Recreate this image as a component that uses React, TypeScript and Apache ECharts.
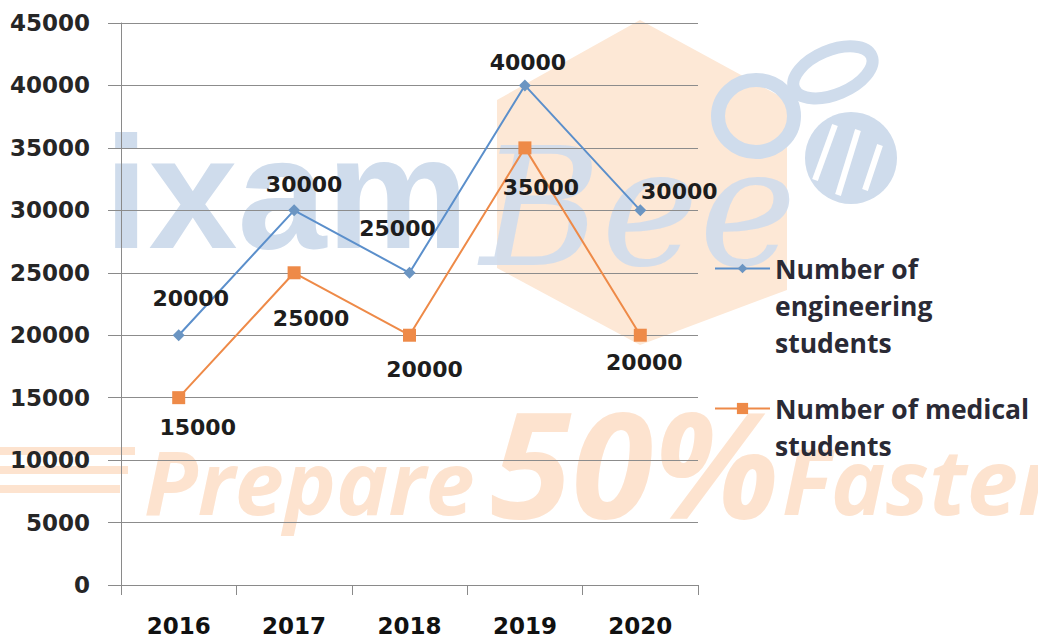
import React, { useEffect, useRef } from "react";
import * as echarts from "echarts";

const years = ["2016", "2017", "2018", "2019", "2020"];
const engineering = [20000, 30000, 25000, 40000, 30000];
const medical = [15000, 25000, 20000, 35000, 20000];
const engName = "Number of engineering students";
const medName = "Number of medical students";
const yMin = 0;
const yMax = 45000;
const yStep = 5000;

// label offsets (px) relative to each point
const engLabelOffsets = [[12, -37], [10, -26], [-12, -44], [3, -23], [39, -19]];
const medLabelOffsets = [[19, 30], [17, 46], [15, 34], [16, 40], [4, 27]];

const BLUE = "#5B8FCB";
const ORANGE = "#EE8A48";
const WM_BLUE = "#CFDCEC";
const WM_ORANGE = "#FDE3CF";

export default function App() {
  const ref = useRef<HTMLDivElement>(null);
  useEffect(() => {
    if (!ref.current) return;
    const chart = echarts.init(ref.current, undefined, { renderer: "svg" });
    const labelBase = {
      show: true,
      position: "inside",
      fontFamily: "DejaVu Sans",
      fontWeight: "bold",
      fontSize: 22,
      color: "#1d1d1d",
    };
    const legendText = {
      fontFamily: "Open Sans",
      fontWeight: "bold",
      fontSize: 26.5,
      lineHeight: 37,
      color: "#2a2a35",
    };
    chart.setOption({
      animation: false,
      backgroundColor: "#ffffff",
      grid: { left: 121, right: 340, top: 23, bottom: 54 },
      graphic: [
        {
          type: "polygon",
          z: -10,
          silent: true,
          shape: { points: [[640, 20], [787, 100], [787, 290], [640, 345], [497, 268], [497, 100]] },
          style: { fill: "#FDE8D6" },
        },
        {
          type: "text",
          z: -9,
          silent: true,
          x: 104,
          y: 272,
          style: { text: "ixam", fontFamily: "Liberation Sans", fontWeight: "bold", fontSize: 160, fill: WM_BLUE, textVerticalAlign: "bottom" },
        },
        {
          type: "text",
          z: -9,
          silent: true,
          x: 480,
          y: 290,
          style: { text: "Bee", fontFamily: "DejaVu Serif", fontStyle: "italic", fontSize: 165, fill: WM_BLUE, opacity: 0.9, textVerticalAlign: "bottom" },
        },
        { type: "ellipse", z: -9, silent: true, shape: { cx: 756, cy: 116, rx: 38, ry: 36 }, style: { fill: "none", stroke: WM_BLUE, lineWidth: 14 } },
        { type: "ellipse", z: -9, silent: true, shape: { cx: 833, cy: 72, rx: 42, ry: 22 }, rotation: 0.4, originX: 833, originY: 72, style: { fill: "none", stroke: WM_BLUE, lineWidth: 12 } },
        { type: "circle", z: -9, silent: true, shape: { cx: 851, cy: 158, r: 46 }, style: { fill: WM_BLUE } },
        { type: "line", z: -8, silent: true, shape: { x1: 835, y1: 125, x2: 815, y2: 180 }, style: { stroke: "#ffffff", lineWidth: 6 } },
        { type: "line", z: -8, silent: true, shape: { x1: 858, y1: 130, x2: 838, y2: 195 }, style: { stroke: "#ffffff", lineWidth: 6 } },
        { type: "line", z: -8, silent: true, shape: { x1: 880, y1: 145, x2: 865, y2: 190 }, style: { stroke: "#ffffff", lineWidth: 6 } },
        { type: "rect", z: -9, silent: true, shape: { x: 0, y: 447, width: 135, height: 8 }, style: { fill: WM_ORANGE } },
        { type: "rect", z: -9, silent: true, shape: { x: 0, y: 466, width: 128, height: 8 }, style: { fill: WM_ORANGE } },
        { type: "rect", z: -9, silent: true, shape: { x: 0, y: 485, width: 120, height: 8 }, style: { fill: WM_ORANGE } },
        {
          type: "text",
          z: -9,
          silent: true,
          x: 144,
          y: 525,
          style: { text: "Prepare", fontFamily: "Open Sans", fontStyle: "italic", fontWeight: "bold", fontSize: 88, fill: WM_ORANGE, textVerticalAlign: "bottom" },
        },
        {
          type: "text",
          z: -9,
          silent: true,
          x: 490,
          y: 535,
          style: { text: "50%", fontFamily: "Open Sans", fontStyle: "italic", fontWeight: "bold", fontSize: 148, fill: WM_ORANGE, textVerticalAlign: "bottom" },
        },
        {
          type: "text",
          z: -9,
          silent: true,
          x: 782,
          y: 525,
          style: { text: "Faster", fontFamily: "Open Sans", fontStyle: "italic", fontWeight: "bold", fontSize: 92, fill: WM_ORANGE, textVerticalAlign: "bottom" },
        },
      ],
      legend: [
        {
          data: [engName],
          left: 714,
          top: 176,
          padding: 0,
          itemWidth: 55,
          itemHeight: 12,
          formatter: () => " \n \nNumber of\nengineering\nstudents",
          textStyle: legendText,
        },
        {
          data: [medName],
          left: 714,
          top: 353,
          padding: 0,
          itemWidth: 55,
          itemHeight: 14,
          formatter: () => " \nNumber of medical\nstudents",
          textStyle: legendText,
        },
      ],
      xAxis: {
        type: "category",
        data: years,
        boundaryGap: true,
        axisLine: { lineStyle: { color: "#8a8a8a", width: 1 } },
        axisTick: { show: true, length: 10, lineStyle: { color: "#8a8a8a" } },
        axisLabel: { fontFamily: "DejaVu Sans", fontWeight: "bold", fontSize: 23, color: "#111111", margin: 29 },
        splitLine: { show: false },
      },
      yAxis: {
        type: "value",
        min: yMin,
        max: yMax,
        interval: yStep,
        axisLine: { show: true, lineStyle: { color: "#8a8a8a", width: 1 } },
        axisTick: { show: true, length: 13, lineStyle: { color: "#8a8a8a" } },
        axisLabel: {
          fontFamily: "DejaVu Sans",
          fontWeight: "bold",
          fontSize: 23,
          color: "#262626",
          margin: 31,
          formatter: (v: number) => String(v),
        },
        splitLine: { show: true, lineStyle: { color: "#8c8c8c", width: 1 } },
      },
      series: [
        {
          name: engName,
          type: "line",
          data: engineering.map((v, i) => ({ value: v, label: { offset: engLabelOffsets[i] } })),
          symbol: "diamond",
          symbolSize: 12,
          lineStyle: { color: BLUE, width: 2 },
          itemStyle: { color: "#6B95C2" },
          label: labelBase,
          z: 3,
        },
        {
          name: medName,
          type: "line",
          data: medical.map((v, i) => ({ value: v, label: { offset: medLabelOffsets[i] } })),
          symbol: "rect",
          symbolSize: 13,
          lineStyle: { color: ORANGE, width: 2 },
          itemStyle: { color: ORANGE },
          label: labelBase,
          z: 2,
        },
      ],
    });
    return () => chart.dispose();
  }, []);
  return (
    <div
      ref={ref}
      style={{ position: "absolute", left: 0, top: 0, width: 1038, height: 639 }}
    />
  );
}
